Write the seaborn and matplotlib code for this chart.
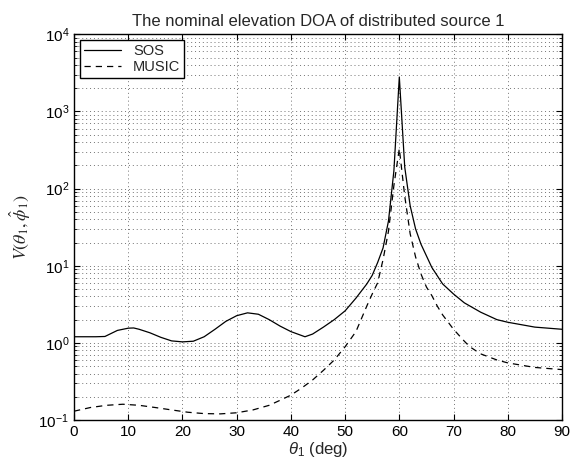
import numpy as np
import pandas as pd
import matplotlib
matplotlib.use("Agg")
import matplotlib.pyplot as plt
import matplotlib.ticker as mticker
import seaborn as sns

# ---- data ----
theta_sos = [0, 2, 4, 5.7, 8, 10, 11, 12, 14, 16, 18, 20, 22, 24, 26, 28, 30, 32, 34, 36, 38, 40,
             42.6, 44, 46, 48, 50, 52, 54, 55, 56, 57, 58, 59, 60, 61, 62, 63, 64, 66, 68, 70,
             72, 75, 78, 80, 85, 90]
v_sos = [1.2, 1.2, 1.2, 1.21, 1.45, 1.55, 1.56, 1.5, 1.35, 1.18, 1.06, 1.03, 1.05, 1.2, 1.5, 1.9,
         2.25, 2.45, 2.35, 2.0, 1.65, 1.4, 1.2, 1.3, 1.6, 2.0, 2.6, 3.8, 5.8, 7.5, 11, 17, 38,
         170, 2800, 190, 60, 30, 19, 9.5, 5.8, 4.3, 3.3, 2.5, 2.0, 1.85, 1.6, 1.5]

theta_music = [0, 3, 6, 9, 12, 15, 18, 21, 24, 27, 30, 33, 36, 38, 40, 42, 44, 46, 48, 50, 52, 54,
               55, 56, 57, 58, 59, 60, 61, 62, 63, 64, 65, 66, 67, 68, 70, 72, 73, 75, 78, 80, 85, 90]
v_music = [0.13, 0.145, 0.155, 0.16, 0.155, 0.145, 0.135, 0.126, 0.121, 0.12, 0.124, 0.135, 0.155,
           0.18, 0.21, 0.26, 0.33, 0.44, 0.6, 0.89, 1.4, 3.0, 4.3, 6.0, 12, 28, 110, 330, 80, 26,
           13, 7.8, 5.3, 4.1, 3.0, 2.3, 1.5, 1.05, 0.89, 0.72, 0.6, 0.55, 0.48, 0.45]

series_names = ["SOS", "MUSIC"]
x_ticks = [0, 10, 20, 30, 40, 50, 60, 70, 80, 90]

df = pd.concat([
    pd.DataFrame({"theta": theta_sos, "V": v_sos, "method": series_names[0]}),
    pd.DataFrame({"theta": theta_music, "V": v_music, "method": series_names[1]}),
], ignore_index=True)

sns.set_style("ticks")
plt.rcParams["font.family"] = ["Liberation Sans", "DejaVu Sans"]
plt.rcParams["mathtext.fontset"] = "custom"
plt.rcParams["mathtext.rm"] = "Liberation Sans"
plt.rcParams["mathtext.it"] = "Liberation Sans:italic"
plt.rcParams["mathtext.bf"] = "Liberation Sans:bold"

fig = plt.figure(figsize=(5.74, 4.68), dpi=100)
ax = fig.add_axes([0.129, 0.1026, 0.850, 0.824])

sns.lineplot(data=df, x="theta", y="V", style="method", estimator=None, sort=True,
             dashes={"SOS": "", "MUSIC": (5, 4)}, color="k", lw=0.9, ax=ax)

ax.set_yscale("log")
ax.set_xlim(0, 90)
ax.set_ylim(1e-1, 1e4)
ax.set_xticks(x_ticks)
ax.set_xticklabels([str(t) for t in x_ticks])
ax.yaxis.set_major_locator(mticker.LogLocator(base=10, numticks=10))
ax.yaxis.set_minor_locator(mticker.LogLocator(base=10, subs=np.arange(2, 10), numticks=20))
ax.yaxis.set_minor_formatter(mticker.NullFormatter())

grid_kw = dict(linestyle=(0, (1, 3)), color="0.45", lw=0.7)
ax.grid(True, which="major", **grid_kw)
ax.grid(True, which="minor", axis="y", **grid_kw)

for s in ax.spines.values():
    s.set_visible(True)
    s.set_color("k")
    s.set_linewidth(1.0)
ax.tick_params(which="both", direction="in", top=True, right=True, colors="k", labelsize=11)
ax.tick_params(which="major", length=4)
ax.tick_params(which="minor", length=2)

ax.set_title("The nominal elevation DOA of distributed source 1", fontsize=12, pad=6)
ax.set_xlabel(r"$\theta_1$ (deg)", fontsize=12, labelpad=1)
ax.set_ylabel(r"$V(\theta_1,\hat{\phi}_1)$", fontsize=13, math_fontfamily="stix", labelpad=4)

handles, labels = ax.get_legend_handles_labels()
leg = ax.legend(handles, labels, loc="upper left", fontsize=10.5, frameon=True, fancybox=False,
                edgecolor="k", framealpha=1, borderaxespad=0.4, handlelength=2.6,
                borderpad=0.25, labelspacing=0.15)
leg.get_frame().set_linewidth(1.0)

fig.savefig("out.png", dpi=100, facecolor="white")
